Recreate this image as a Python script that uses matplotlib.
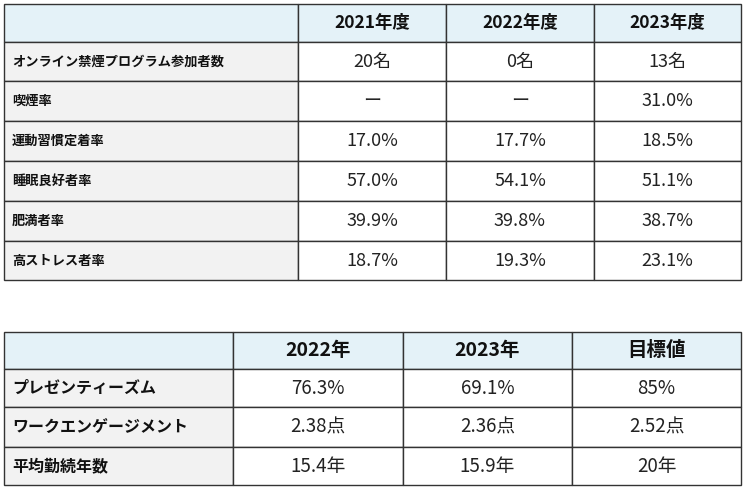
import matplotlib
matplotlib.use("Agg")
import matplotlib.pyplot as plt
from matplotlib.patches import Rectangle

FONT = "Noto Sans CJK JP"

t1_headers = ["2021年度", "2022年度", "2023年度"]
t1_labels = ["オンライン禁煙プログラム参加者数", "喫煙率", "運動習慣定着率", "睡眠良好者率", "肥満者率", "高ストレス者率"]
t1_2021 = ["20名", "ー", "17.0%", "57.0%", "39.9%", "18.7%"]
t1_2022 = ["0名", "ー", "17.7%", "54.1%", "39.8%", "19.3%"]
t1_2023 = ["13名", "31.0%", "18.5%", "51.1%", "38.7%", "23.1%"]

t2_headers = ["2022年", "2023年", "目標値"]
t2_labels = ["プレゼンティーズム", "ワークエンゲージメント", "平均勤続年数"]
t2_2022 = ["76.3%", "2.38点", "15.4年"]
t2_2023 = ["69.1%", "2.36点", "15.9年"]
t2_goal = ["85%", "2.52点", "20年"]

fig = plt.figure(figsize=(7.46, 4.90), dpi=100)
ax = fig.add_axes([0, 0, 1, 1])
ax.set_xlim(0, 746)
ax.set_ylim(490, 0)
ax.axis("off")

HEAD = "#e4f2f8"
LAB = "#f2f2f2"
EDGE = "#333333"

def draw_table(xs, ys, headers, labels, cols, hfs, lfs, vfs):
    nrows = len(ys) - 1
    for r in range(nrows):
        for c in range(len(xs) - 1):
            if r == 0:
                fc = HEAD
            elif c == 0:
                fc = LAB
            else:
                fc = "white"
            ax.add_patch(Rectangle((xs[c], ys[r]), xs[c+1]-xs[c], ys[r+1]-ys[r],
                                   facecolor=fc, edgecolor=EDGE, lw=1.0))
            cy = (ys[r] + ys[r+1]) / 2
            if r == 0:
                if c > 0:
                    ax.text((xs[c]+xs[c+1])/2, cy, headers[c-1], ha="center", va="center",
                            fontsize=hfs, fontweight="bold", family=FONT, color="#111111")
            elif c == 0:
                ax.text(xs[0] + 8, cy, labels[r-1], ha="left", va="center",
                        fontsize=lfs, fontweight="bold", family=FONT, color="#111111")
            else:
                ax.text((xs[c]+xs[c+1])/2, cy, cols[c-1][r-1], ha="center", va="center",
                        fontsize=vfs, family=FONT, color="#222222")

draw_table([4, 298, 446, 594, 741], [4, 42, 81, 121, 161, 201, 241, 280],
           t1_headers, t1_labels, [t1_2021, t1_2022, t1_2023], 12.5, 9.5, 13)
draw_table([4, 233, 403, 572, 741], [332, 369, 407, 447, 485],
           t2_headers, t2_labels, [t2_2022, t2_2023, t2_goal], 14, 11.5, 13.5)

fig.savefig("out.png", dpi=100)
